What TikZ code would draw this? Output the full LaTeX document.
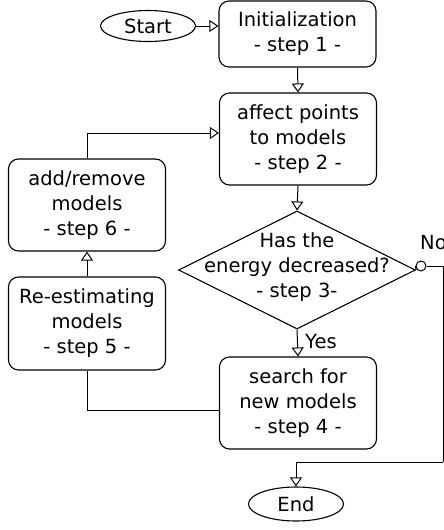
\documentclass[tikz,border=0pt]{standalone}
\usepackage{fontspec}
\setmainfont{DejaVu Sans}
\usetikzlibrary{shapes.geometric,arrows.meta}
\begin{document}
\begin{tikzpicture}[x=1pt,y=-1pt,
  txt/.style={font=\fontsize{19.5}{25}\selectfont},
  stepbox/.style={draw,line width=1.1pt,rounded corners=10pt,minimum width=157pt,align=center,inner sep=0pt,txt},
  term/.style={draw,ellipse,line width=1.1pt,minimum width=95pt,minimum height=31pt,inner sep=0pt,txt},
  conn/.style={line width=1pt},
  arr/.style={conn,-{Triangle[open,length=9pt,width=12pt]}}]
\useasboundingbox (0,0) rectangle (444,530);
\node[term] (start) at (148,26) {Start};
\node[stepbox,minimum height=66pt] (init) at (297.5,34) {Initialization\\- step 1 -};
\node[stepbox,minimum height=92pt] (affect) at (298,139) {affect points\\to models\\- step 2 -};
\node[draw,diamond,line width=1.1pt,minimum width=237pt,minimum height=118pt,inner sep=0pt] (dia) at (297,270) {};
\node[txt,align=center] (diatext) at (297,267) {Has the\\energy decreased?\\- step 3-};
\node[draw,circle,line width=1pt,minimum size=10pt,inner sep=0pt] (noc) at (421,266) {};
\node[txt,anchor=west,inner sep=0pt] (nolab) at (420,243) {No};
\node[stepbox,minimum height=92pt] (search) at (298,403) {search for\\new models\\- step 4 -};
\node[txt,anchor=west,inner sep=0pt] (yeslab) at (305,342) {Yes};
\node[stepbox,minimum height=93pt] (reest) at (87,323.5) {Re-estimating\\models\\- step 5 -};
\node[stepbox,minimum height=92pt] (addrm) at (87,205) {add/remove\\models\\- step 6 -};
\node[term,minimum height=34pt] (end) at (296,504) {End};
\coordinate (c1) at (443,462);
\draw[arr] (start.east) -- (start.east -| init.west);
\draw[arr] (init.south) -- (affect.north);
\draw[arr] (affect.south) -- (dia.north);
\draw[arr] (dia.south) -- (search.north);
\draw[conn] ([yshift=-7pt]search.west) -| (reest.south);
\draw[arr] (reest.north) -- (addrm.south);
\draw[arr] (addrm.north) |- ([yshift=6pt]affect.west);
\draw[conn] (dia.east) -- (noc.west);
\draw[conn] (noc.east) -| (c1);
\draw[arr] (c1) -| (end.north);
\end{tikzpicture}
\end{document}
